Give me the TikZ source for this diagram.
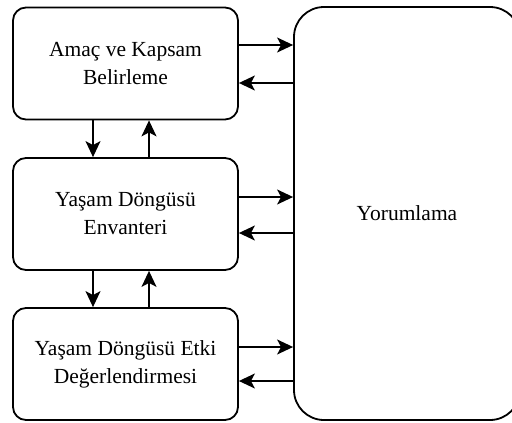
\documentclass[tikz,border=0pt]{standalone}
\usepackage{fontspec}
\setmainfont{Liberation Serif}
\usetikzlibrary{arrows.meta}
\begin{document}
\begin{tikzpicture}[x=1pt,y=-1pt,
  stage/.style={draw, line width=1.8pt, rounded corners=13pt, minimum width=225pt,
    minimum height=112pt, align=center, inner sep=0pt,
    font=\fontsize{21.5}{28}\selectfont},
  wide/.style={draw, line width=1.8pt, rounded corners=30pt, minimum width=226pt,
    minimum height=413pt, align=center, inner sep=0pt,
    font=\fontsize{21.5}{28}\selectfont},
  arr/.style={line width=1.6pt, -{Stealth[length=16pt, width=15pt, inset=4pt]}}]
  \useasboundingbox (0,0) rectangle (512,423);
  \clip (0,0) rectangle (512,423);
  % four stages
  \node[stage] (b1) at (125.5,63.5) {Amaç ve Kapsam\\Belirleme};
  \node[stage] (b2) at (125.5,214) {Yaşam Döngüsü\\Envanteri};
  \node[stage] (b3) at (125.5,364) {Yaşam Döngüsü Etki\\Değerlendirmesi};
  \node[wide] (yo) at (407,213.5) {Yorumlama};
  % links to and from the interpretation stage (yshift is upward on the page)
  \draw[arr] ([yshift=18.5pt]b1.east) -- ([yshift=18.5pt]b1.east -| yo.west);
  \draw[arr] ([yshift=-19.5pt]b1.east -| yo.west) -- ([yshift=-19.5pt]b1.east);
  \draw[arr] ([yshift=17pt]b2.east) -- ([yshift=17pt]b2.east -| yo.west);
  \draw[arr] ([yshift=-19pt]b2.east -| yo.west) -- ([yshift=-19pt]b2.east);
  \draw[arr] ([yshift=17pt]b3.east) -- ([yshift=17pt]b3.east -| yo.west);
  \draw[arr] ([yshift=-17pt]b3.east -| yo.west) -- ([yshift=-17pt]b3.east);
  % links between neighbouring stages
  \draw[arr] (b1.south -| 93,0) -- (b2.north -| 93,0);
  \draw[arr] (b2.north -| 149,0) -- (b1.south -| 149,0);
  \draw[arr] (b2.south -| 93,0) -- (b3.north -| 93,0);
  \draw[arr] (b3.north -| 149,0) -- (b2.south -| 149,0);
\end{tikzpicture}
\end{document}
